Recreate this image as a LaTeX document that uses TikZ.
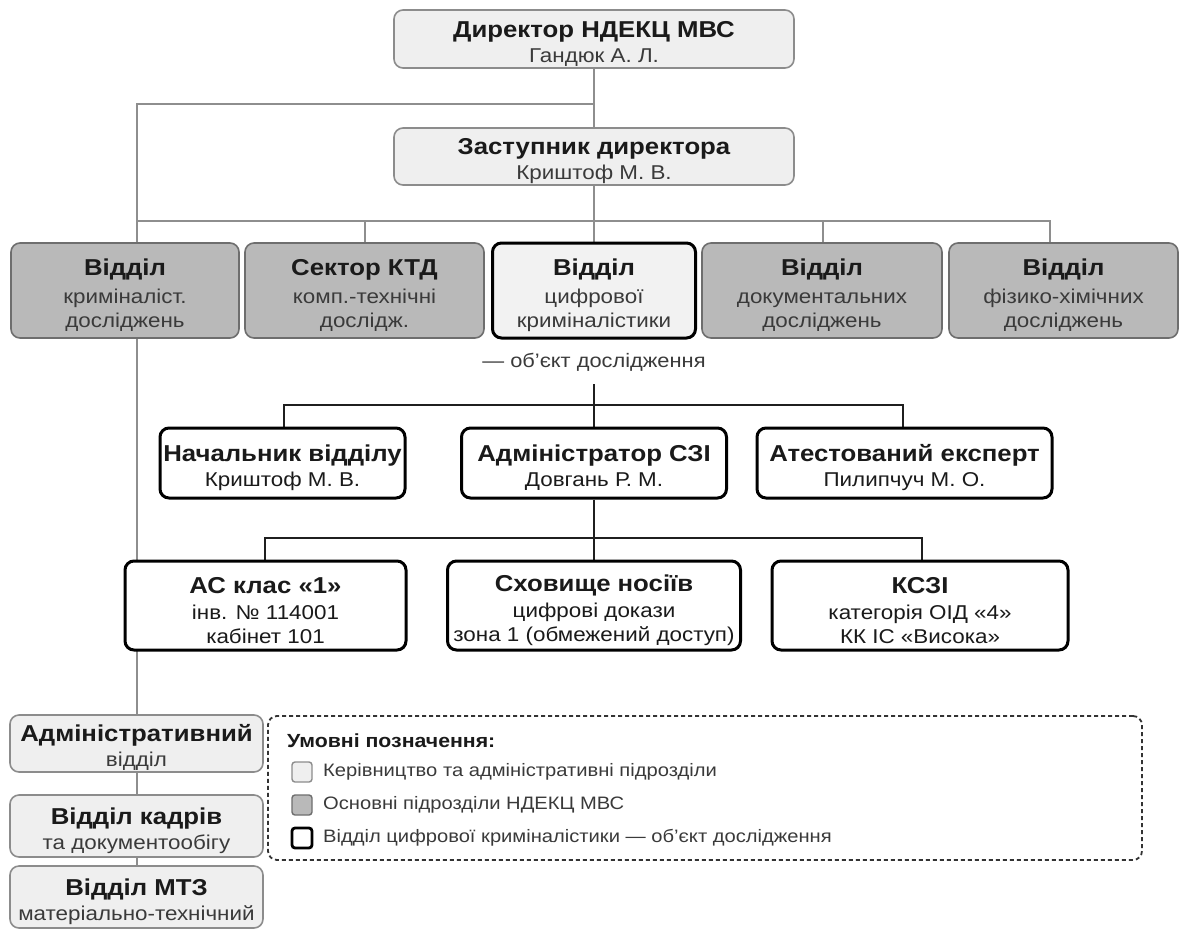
\documentclass[tikz,border=0pt]{standalone}
\usepackage{fontspec}
\setmainfont[FakeStretch=1.12]{Liberation Sans}
\usetikzlibrary{backgrounds}
\definecolor{lightfill}{HTML}{EFEFEF}
\definecolor{lightdraw}{HTML}{8C8C8C}
\definecolor{darkfill}{HTML}{B9B9B9}
\definecolor{darkdraw}{HTML}{6E6E6E}
\definecolor{linegray}{HTML}{8E8E8E}
\definecolor{txt}{HTML}{1A1A1A}
\definecolor{subtxt}{HTML}{3A3A3A}
\newcommand{\ttl}[1]{{\fontsize{23}{27}\selectfont\bfseries\rule{0pt}{25.5pt}#1}}
\newcommand{\sbt}[1]{{\color{subtxt}#1}}
\tikzset{
  box/.style={rectangle, rounded corners=9pt, align=center, inner sep=0pt, text=txt,
    font=\fontsize{20}{24}\selectfont},
  lightbox/.style={box, fill=lightfill, draw=lightdraw, line width=1.6pt},
  darkbox/.style={box, fill=darkfill, draw=darkdraw, line width=1.6pt},
  focusbox/.style={box, fill=white!95!black, draw=black, line width=3pt},
  keybox/.style={box, fill=white, draw=black, line width=3pt},
  grayline/.style={draw=linegray, line width=1.6pt},
  blackline/.style={draw=black!88, line width=1.6pt},
  legendbox/.style={rectangle, rounded corners=9pt, draw=black!80, line width=1.8pt,
    dash pattern=on 4pt off 3pt, fill=white},
  swatch/.style={rectangle, rounded corners=3pt, minimum width=20pt, minimum height=20pt, inner sep=0pt},
  legtext/.style={anchor=west, inner sep=0pt, text=subtxt, font=\fontsize{18}{21}\selectfont},
}
\begin{document}
\begin{tikzpicture}[x=1pt,y=-1pt]
\useasboundingbox (0,0) rectangle (1183,932);

% top
\node[lightbox, minimum width=400pt, minimum height=58pt] (dir) at (594,39)
  {\ttl{Директор НДЕКЦ МВС}\\[1pt]\sbt{Гандюк А. Л.}};
\node[lightbox, minimum width=400pt, minimum height=57pt] (dep) at (594,156.5)
  {\ttl{Заступник директора}\\[1pt]\sbt{Криштоф М. В.}};

% main row
\node[darkbox, minimum width=228pt, minimum height=95pt] (b1) at (125,290.5)
  {\ttl{Відділ}\\[4pt]\sbt{криміналіст.}\\\sbt{досліджень}};
\node[darkbox, minimum width=239pt, minimum height=95pt] (b2) at (364.5,290.5)
  {\ttl{Сектор КТД}\\[4pt]\sbt{комп.-технічні}\\\sbt{дослідж.}};
\node[focusbox, minimum width=203pt, minimum height=95pt] (b3) at (594,290.5)
  {\ttl{Відділ}\\[4pt]\sbt{цифрової}\\\sbt{криміналістики}};
\node[darkbox, minimum width=240pt, minimum height=95pt] (b4) at (822,290.5)
  {\ttl{Відділ}\\[4pt]\sbt{документальних}\\\sbt{досліджень}};
\node[darkbox, minimum width=229pt, minimum height=95pt] (b5) at (1063.5,290.5)
  {\ttl{Відділ}\\[4pt]\sbt{фізико-хімічних}\\\sbt{досліджень}};

% level 2
\node[keybox, minimum width=245pt, minimum height=70pt] (l2a) at (282.5,463)
  {\ttl{Начальник відділу}\\[1pt]Криштоф М. В.};
\node[keybox, minimum width=265pt, minimum height=70pt] (l2b) at (594,463)
  {\ttl{Адміністратор СЗІ}\\[1pt]Довгань Р. М.};
\node[keybox, minimum width=295pt, minimum height=70pt] (l2c) at (904.5,463)
  {\ttl{Атестований експерт}\\[1pt]Пилипчуч М. О.};

% level 3
\node[keybox, minimum width=281pt, minimum height=89pt] (l3a) at (265.5,605.5)
  {\ttl{АС клас «1»}\\[2pt]інв. № 114001\\кабінет 101};
\node[keybox, minimum width=293pt, minimum height=89pt] (l3b) at (594,605.5)
  {\ttl{Сховище носіїв}\\[2pt]цифрові докази\\зона 1 (обмежений доступ)};
\node[keybox, minimum width=296pt, minimum height=89pt] (l3c) at (920,605.5)
  {\ttl{КСЗІ}\\[2pt]категорія ОІД «4»\\КК ІС «Висока»};

% admin column
\node[lightbox, minimum width=253pt, minimum height=57pt] (adm1) at (136.5,743.5)
  {\ttl{Адміністративний}\\[1pt]\sbt{відділ}};
\node[lightbox, minimum width=253pt, minimum height=62pt] (adm2) at (136.5,826)
  {\ttl{Відділ кадрів}\\[1pt]\sbt{та документообігу}};
\node[lightbox, minimum width=253pt, minimum height=62pt] (adm3) at (136.5,897)
  {\ttl{Відділ МТЗ}\\[1pt]\sbt{матеріально-технічний}};

% legend
\node[legendbox, minimum width=874pt, minimum height=144pt] (legend) at (705,788) {};
\node[anchor=west, inner sep=0pt, text=txt, font=\fontsize{19}{22}\selectfont\bfseries] (legt) at (287,741) {Умовні позначення:};
\node[swatch, fill=lightfill, draw=lightdraw, line width=1.4pt] (sw1) at (302,772) {};
\node[swatch, fill=darkfill, draw=darkdraw, line width=1.4pt] (sw2) at (302,805) {};
\node[swatch, fill=white, draw=black, line width=2.8pt] (sw3) at (302,838) {};
\node[legtext] (lt1) at (323,772) {Керівництво та адміністративні підрозділи};
\node[legtext] (lt2) at (323,805) {Основні підрозділи НДЕКЦ МВС};
\node[legtext] (lt3) at (323,838) {Відділ цифрової криміналістики — об'єкт дослідження};

% connectors
\begin{scope}[on background layer]
  \coordinate (j1) at (594,104);
  \coordinate (lx) at (137,104);
  \coordinate (d1) at (137,221);
  \coordinate (d2) at (365,221);
  \coordinate (d4) at (823,221);
  \coordinate (d5) at (1050,221);
  \draw[grayline] (dir.south) -- (dep.north);
  \draw[grayline] (j1) -- (lx) -- (lx |- adm3.north);
  \draw[grayline] (d1) -- (d5) -- (d5 |- b5.north);
  \draw[grayline] (d2) -- (d2 |- b2.north);
  \draw[grayline] (d4) -- (d4 |- b4.north);
  \draw[grayline] (dep.south) -- (dep.south |- b3.north);
  \coordinate (f1) at (284,405);
  \coordinate (f3) at (903,405);
  \draw[blackline] (b3.south) -- (b3.south |- l2b.north);
  \draw[blackline] (f1 |- l2a.north) -- (f1) -- (f3) -- (f3 |- l2c.north);
  \coordinate (g1) at (265,538);
  \coordinate (g3) at (922,538);
  \draw[blackline] (l2b.south) -- (l2b.south |- l3b.north);
  \draw[blackline] (g1 |- l3a.north) -- (g1) -- (g3) -- (g3 |- l3c.north);
  \node[fill=white, inner sep=0pt, minimum height=44pt, text=subtxt,
    font=\fontsize{19.5}{22}\selectfont] (lbl) at (594,362) {— об'єкт дослідження};
\end{scope}
\end{tikzpicture}
\end{document}
